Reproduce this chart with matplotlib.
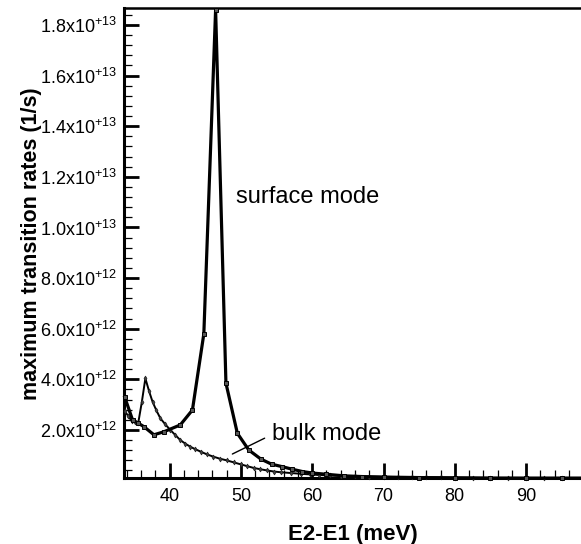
import numpy as np
import matplotlib
matplotlib.use('Agg')
import matplotlib.pyplot as plt
from matplotlib.ticker import MultipleLocator, FuncFormatter

plt.rcParams['font.family'] = ['Liberation Sans', 'DejaVu Sans']
plt.rcParams['mathtext.fontset'] = 'custom'
plt.rcParams['mathtext.rm'] = 'Liberation Sans'
plt.rcParams['mathtext.it'] = 'Liberation Sans:italic'
plt.rcParams['mathtext.bf'] = 'Liberation Sans:bold'

# surface mode (thick line), rates in 1e12 1/s
surf_e = [33.7, 34.8, 35.6, 36.4, 37.8, 39.2, 41.5, 43.2, 44.8, 46.45, 47.9, 49.5,
          51.1, 52.8, 54.3, 55.8, 57.2, 58.6, 60.0, 62.0, 64.4, 67.0, 70.0, 75.0,
          80.0, 85.0, 90.0, 95.0, 98.0]
surf_rate = [3.3, 2.4, 2.27, 2.13, 1.81, 1.93, 2.2, 2.79, 5.8, 18.6, 3.85, 1.87,
             1.21, 0.85, 0.65, 0.55, 0.45, 0.36, 0.30, 0.25, 0.19, 0.16, 0.14, 0.12,
             0.11, 0.10, 0.10, 0.10, 0.10]

# bulk mode (thin line)
bulk_e = [33.7, 34.2, 34.7, 35.2, 35.6, 36.1, 36.6, 37.1, 37.6, 38.1, 38.7, 39.4,
          40.1, 40.8, 41.5, 42.2, 42.9, 43.6, 44.4, 45.2, 46.1, 47.0, 48.0, 49.0,
          50.0, 50.9, 51.8, 52.7, 53.7, 54.6, 55.6, 57.0, 58.4, 59.7, 61.0, 62.5,
          64.0, 66.0, 68.0, 70.0, 72.0, 74.0, 76.0, 78.0, 80.0, 82.5, 85.0, 87.5,
          90.0, 92.5, 95.0, 98.0]
bulk_rate = [2.75, 2.55, 2.35, 2.3, 2.28, 3.1, 4.04, 3.55, 3.12, 2.8, 2.46, 2.22,
             2.0, 1.8, 1.6, 1.46, 1.34, 1.24, 1.14, 1.04, 0.95, 0.87, 0.8, 0.72,
             0.64, 0.57, 0.5, 0.45, 0.4, 0.36, 0.33, 0.3, 0.27, 0.245, 0.22, 0.205,
             0.19, 0.175, 0.16, 0.15, 0.14, 0.135, 0.13, 0.125, 0.12, 0.115, 0.11, 0.108,
             0.105, 0.103, 0.10, 0.10]

surf_rate = np.array(surf_rate) * 1e12
bulk_rate = np.array(bulk_rate) * 1e12

fig = plt.figure(figsize=(5.81, 5.44), dpi=100)
ax = fig.add_axes([0.2134, 0.1208, 0.7866, 0.8645])

ax.plot(bulk_e, bulk_rate, color='black', lw=1.4, marker='d', ms=2.5,
        mfc='#444444', mec='#222222', mew=0.5, clip_on=False, zorder=3)
ax.plot(surf_e, surf_rate, color='black', lw=2.3, marker='s', ms=3.2,
        mfc='#555555', mec='black', mew=0.7, clip_on=False, zorder=4)

ax.set_xlim(33.6, 97.7)
ax.set_ylim(0.092e12, 1.867e13)

ax.xaxis.set_major_locator(MultipleLocator(10))
ax.xaxis.set_minor_locator(MultipleLocator(2))
ax.yaxis.set_major_locator(MultipleLocator(2e12))
ax.yaxis.set_minor_locator(MultipleLocator(0.4e12))


def sci_fmt(v, pos):
    if v <= 0:
        return ''
    e = int(np.floor(np.log10(v) + 1e-9))
    m = v / 10 ** e
    return f'{m:.1f}x10$^{{\\mathregular{{+{e}}}}}$'


ax.yaxis.set_major_formatter(FuncFormatter(sci_fmt))

ax.tick_params(which='both', direction='in', top=False, right=False)
ax.tick_params(which='major', length=11, width=2.0, labelsize=13, pad=5)
ax.tick_params(which='minor', length=6, width=0.9)
ax.tick_params(axis='x', which='major', pad=7)

ax.spines['right'].set_visible(False)
ax.spines['left'].set_linewidth(2.2)
ax.spines['bottom'].set_linewidth(2.2)
ax.spines['top'].set_linewidth(1.8)

ax.set_ylabel('maximum transition rates (1/s)', fontsize=15.5, fontweight='bold')
ax.set_xlabel('E2-E1 (meV)', fontsize=16, fontweight='bold')
ax.yaxis.set_label_coords(-0.18, 0.498)
ax.xaxis.set_label_coords(0.5, -0.097)

ax.text(49.3, 11.2e12, 'surface mode', fontsize=17, va='center', ha='left')
ax.annotate('bulk mode', xy=(48.8, 1.05e12), xytext=(54.4, 1.85e12),
            fontsize=17, va='center', ha='left',
            arrowprops=dict(arrowstyle='-', color='black', lw=1.0,
                            shrinkA=0, shrinkB=0, relpos=(-0.07, 0.3)))

fig.savefig('out.png', dpi=100)
